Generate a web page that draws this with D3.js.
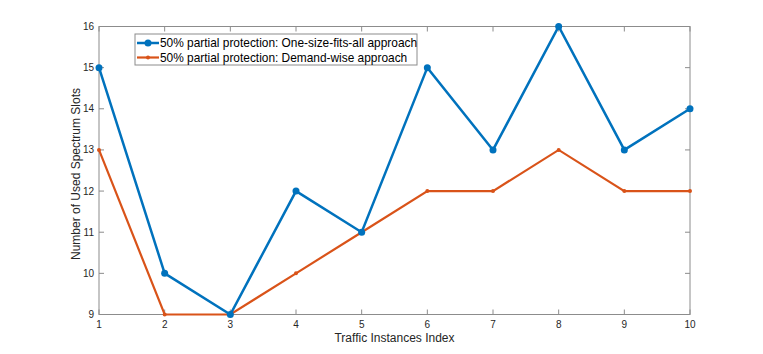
<!DOCTYPE html>
<html>
<head>
<meta charset="utf-8">
<script src="https://cdn.jsdelivr.net/npm/d3@7"></script>
<style>
body{margin:0;background:#fff;}
text{font-family:"Liberation Sans",Arial,sans-serif;}
</style>
</head>
<body>
<div id="chart"></div>
<script>
var instances = [1,2,3,4,5,6,7,8,9,10];
var oneSize = [15,10,9,12,11,15,13,16,13,14];
var demandWise = [13,9,9,10,11,12,12,13,12,12];
var yTicks = [9,10,11,12,13,14,15,16];
var seriesNames = ["50% partial protection: One-size-fits-all approach","50% partial protection: Demand-wise approach"];

var W = 763, H = 354;
var pL = 99, pR = 690, pT = 26.5, pB = 314.5;

var svg = d3.select("#chart").append("svg")
  .attr("width", W).attr("height", H);

var x = d3.scaleLinear().domain([1,10]).range([pL,pR]);
var y = d3.scaleLinear().domain([9,16]).range([pB,pT]);

// box
svg.append("rect")
  .attr("x", pL).attr("y", pT)
  .attr("width", pR-pL).attr("height", pB-pT)
  .attr("fill", "none").attr("stroke", "#8c8c8c").attr("stroke-width", 1);

var tickLen = 5;
var axisCol = "#8c8c8c";
instances.forEach(function(d){
  svg.append("line").attr("x1", x(d)).attr("x2", x(d))
    .attr("y1", pB).attr("y2", pB-tickLen).attr("stroke", axisCol);
  svg.append("line").attr("x1", x(d)).attr("x2", x(d))
    .attr("y1", pT).attr("y2", pT+tickLen).attr("stroke", axisCol);
  svg.append("text").attr("x", x(d)).attr("y", pB+13)
    .attr("text-anchor", "middle").attr("font-size", 10).attr("fill", "#262626")
    .text(d);
});
yTicks.forEach(function(d){
  svg.append("line").attr("x1", pL).attr("x2", pL+tickLen)
    .attr("y1", y(d)).attr("y2", y(d)).attr("stroke", axisCol);
  svg.append("line").attr("x1", pR).attr("x2", pR-tickLen)
    .attr("y1", y(d)).attr("y2", y(d)).attr("stroke", axisCol);
  svg.append("text").attr("x", pL-5).attr("y", y(d)+3.5)
    .attr("text-anchor", "end").attr("font-size", 10).attr("fill", "#262626")
    .text(d);
});

svg.append("text").attr("x", (pL+pR)/2).attr("y", 342)
  .attr("text-anchor", "middle").attr("font-size", 12).attr("fill", "#262626")
  .text("Traffic Instances Index");
svg.append("text")
  .attr("transform", "translate(80,174) rotate(-90)")
  .attr("text-anchor", "middle").attr("font-size", 12).attr("fill", "#262626")
  .text("Number of Used Spectrum Slots");

var line = d3.line().x(function(d,i){ return x(instances[i]); }).y(function(d){ return y(d); });

svg.append("path").datum(demandWise).attr("d", line)
  .attr("fill", "none").attr("stroke", "#D95319").attr("stroke-width", 2.2);
svg.selectAll(".dw").data(demandWise).enter().append("circle")
  .attr("cx", function(d,i){ return x(instances[i]); }).attr("cy", function(d){ return y(d); })
  .attr("r", 2).attr("fill", "#D95319");

svg.append("path").datum(oneSize).attr("d", line)
  .attr("fill", "none").attr("stroke", "#0072BD").attr("stroke-width", 2.5);
svg.selectAll(".os").data(oneSize).enter().append("circle")
  .attr("cx", function(d,i){ return x(instances[i]); }).attr("cy", function(d){ return y(d); })
  .attr("r", 3.5).attr("fill", "#0072BD");

// legend
var lg = svg.append("g");
lg.append("rect").attr("x", 135).attr("y", 34).attr("width", 282).attr("height", 31)
  .attr("fill", "#fff").attr("stroke", "#8c8c8c").attr("stroke-width", 1);
var cols = ["#0072BD","#D95319"];
var rs = [3.5,2];
var sw = [2.5,2.2];
seriesNames.forEach(function(n,i){
  var ly = 43 + i*14.5;
  lg.append("line").attr("x1", 137).attr("x2", 159).attr("y1", ly).attr("y2", ly)
    .attr("stroke", cols[i]).attr("stroke-width", sw[i]);
  lg.append("circle").attr("cx", 148).attr("cy", ly).attr("r", rs[i]).attr("fill", cols[i]);
  lg.append("text").attr("x", 160).attr("y", ly+4.3).attr("font-size", 11.9).attr("fill", "#000")
    .text(n);
});
</script>
</body>
</html>
